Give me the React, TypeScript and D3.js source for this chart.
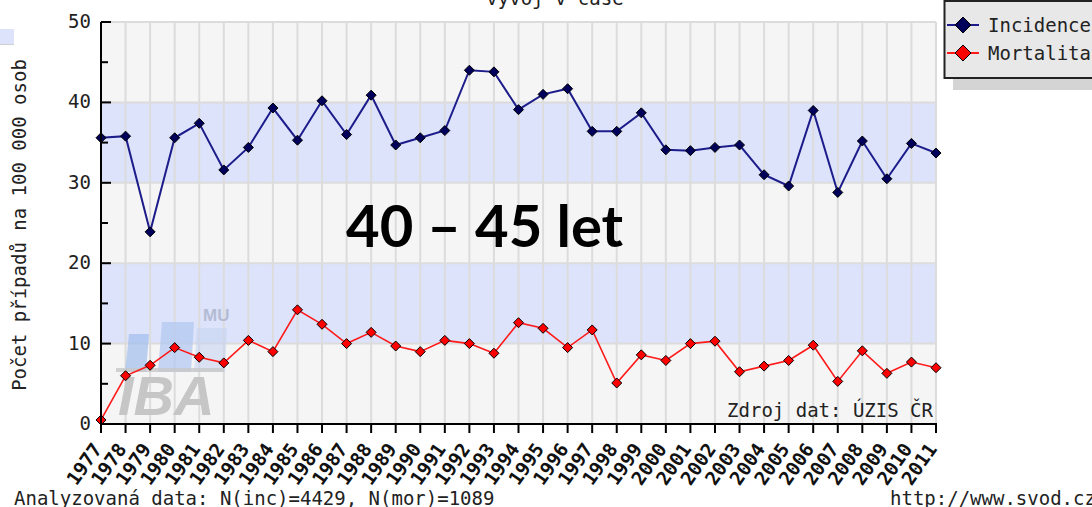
import React from "react";
import * as d3 from "d3";

const years: string[] = [
  "1977","1978","1979","1980","1981","1982","1983","1984","1985","1986",
  "1987","1988","1989","1990","1991","1992","1993","1994","1995","1996",
  "1997","1998","1999","2000","2001","2002","2003","2004","2005","2006",
  "2007","2008","2009","2010","2011",
];
const incidence: number[] = [
  35.6, 35.8, 23.9, 35.6, 37.4, 31.6, 34.4, 39.3, 35.3, 40.2,
  36.0, 40.9, 34.7, 35.6, 36.5, 44.0, 43.8, 39.1, 41.0, 41.7,
  36.4, 36.4, 38.7, 34.1, 34.0, 34.4, 34.7, 31.0, 29.6, 39.0,
  28.8, 35.2, 30.5, 34.9, 33.7,
];
const mortalita: number[] = [
  0.5, 6.0, 7.3, 9.5, 8.3, 7.6, 10.4, 9.0, 14.2, 12.4,
  10.0, 11.4, 9.7, 9.0, 10.4, 10.0, 8.8, 12.6, 11.9, 9.5,
  11.7, 5.1, 8.6, 7.9, 10.0, 10.3, 6.5, 7.2, 7.9, 9.8,
  5.3, 9.1, 6.3, 7.7, 7.0,
];
const yMajorTicks: number[] = [0, 10, 20, 30, 40, 50];
const yMinorTicks: number[] = [5, 15, 25, 35, 45];
const bands: [number, number][] = [[10, 20], [30, 40]];
const seriesNames: string[] = ["Incidence", "Mortalita"];

const W = 1092;
const H = 507;
const X0 = 101, X1 = 936, Y0 = 424, Y1 = 22;
const MONO = "'DejaVu Sans Mono', monospace";

function diamond(cx: number, cy: number, r: number) {
  return `M${cx},${cy - r}L${cx + r},${cy}L${cx},${cy + r}L${cx - r},${cy}Z`;
}

export default function App() {
  const x = d3.scalePoint<string>().domain(years).range([X0, X1]);
  const y = d3.scaleLinear().domain([0, 50]).range([Y0, Y1]);
  const line = d3
    .line<number>()
    .x((_, i) => x(years[i]) as number)
    .y((d) => y(d));

  const series = [
    { name: seriesNames[0], data: incidence, color: "#1c1c8a", fill: "#00005a", width: 2 },
    { name: seriesNames[1], data: mortalita, color: "#ff1a1a", fill: "#ff0000", width: 1.6 },
  ];

  return (
    <svg
      width={W}
      height={H}
      style={{ position: "absolute", left: 0, top: 0, background: "#fff" }}
      fontFamily={MONO}
    >
      {/* left edge remnants */}
      <rect x={0} y={29} width={14} height={15} fill="#dce3fb" />
      <line x1={0} x2={14} y1={44.5} y2={44.5} stroke="#cfcfcf" strokeWidth={1} />

      {/* title (cut at top) */}
      <text x={555} y={5} textAnchor="middle" fontSize={19} fill="#222">vývoj v čase</text>

      {/* plot background */}
      <rect x={X0} y={Y1} width={X1 - X0} height={Y0 - Y1} fill="#f5f5f5" />
      {bands.map(([a, b], i) => (
        <rect key={i} x={X0} y={y(b)} width={X1 - X0} height={y(a) - y(b)} fill="#dce3fb" />
      ))}
      {/* grid */}
      {years.map((yr) => (
        <line key={yr} x1={x(yr)} x2={x(yr)} y1={Y1} y2={Y0} stroke="#dcdcdc" strokeWidth={2} />
      ))}
      {yMajorTicks.filter((t) => t > 0).map((t) => (
        <line key={t} x1={X0} x2={X1} y1={y(t)} y2={y(t)} stroke="#dcdcdc" strokeWidth={2} />
      ))}

      {/* watermark */}
      <g>
        <text x={203} y={321} fontFamily="'Liberation Sans', Arial, sans-serif" fontWeight="bold" fontSize={17} fill="#b4bcd4">MU</text>
        <polygon points="125,372 129,334 149,334 146,372" fill="#a6c0ee" opacity={0.75} />
        <polygon points="158,372 162,322 194,322 191,372" fill="#b3c8f0" opacity={0.75} />
        <polygon points="194,372 197,328 227,328 225,372" fill="#c6d4f0" opacity={0.6} />
        <rect x={116} y={368} width={108} height={4} fill="#c8c8c8" opacity={0.8} />
        <text x={118} y={415} fontFamily="'Liberation Sans', Arial, sans-serif" fontWeight="bold" fontStyle="italic" fontSize={56} fill="#c6c6c6">IBA</text>
      </g>

      {/* series */}
      {series.map((s) => (
        <g key={s.name}>
          <path d={line(s.data) as string} fill="none" stroke={s.color} strokeWidth={s.width} />
          {s.data.map((v, i) => (
            <path key={i} d={diamond(x(years[i]) as number, y(v), 5)} fill={s.fill} stroke="#000" strokeWidth={1} />
          ))}
        </g>
      ))}

      {/* axes */}
      <line x1={X0} x2={X0} y1={Y1} y2={Y0 + 1} stroke="#000" strokeWidth={2} />
      <line x1={X0 - 1} x2={X1 + 1} y1={Y0} y2={Y0} stroke="#000" strokeWidth={2} />
      {yMajorTicks.map((t) => (
        <g key={t}>
          <line x1={X0} x2={X0 + 10} y1={y(t)} y2={y(t)} stroke="#000" strokeWidth={2} />
          <text x={91} y={y(t) + 6} textAnchor="end" fontSize={19} fill="#222">{t}</text>
        </g>
      ))}
      {yMinorTicks.map((t) => (
        <line key={t} x1={X0} x2={X0 + 7} y1={y(t)} y2={y(t)} stroke="#000" strokeWidth={2} />
      ))}
      {years.map((yr) => (
        <g key={yr}>
          <line x1={x(yr)} x2={x(yr)} y1={Y0} y2={Y0 + 9} stroke="#000" strokeWidth={2} />
          <text
            transform={`translate(${(x(yr) as number) - 4},${Y0 + 21}) rotate(-55)`}
            textAnchor="end"
            fontSize={19}
            fontWeight="bold"
            fill="#111"
            dominantBaseline="central"
          >
            {yr}
          </text>
        </g>
      ))}

      {/* y title */}
      <text transform="translate(26,225) rotate(-90)" textAnchor="middle" fontSize={19} fill="#222">
        Počet případů na 100 000 osob
      </text>

      {/* source */}
      <text x={933} y={417} textAnchor="end" fontSize={19} fill="#222">Zdroj dat: ÚZIS ČR</text>

      {/* footer */}
      <text x={14} y={505} fontSize={19} fill="#222">Analyzovaná data: N(inc)=4429, N(mor)=1089</text>
      <text x={890} y={505} fontSize={19} fill="#222">http://www.svod.cz</text>

      {/* legend */}
      <rect x={953} y={78} width={W - 953} height={12} fill="#d4d4d4" />
      <rect x={944.5} y={1} width={W} height={77} fill="#e8e8e8" stroke="#222" strokeWidth={2} />
      {series.map((s, i) => {
        const ly = 25 + i * 28;
        return (
          <g key={s.name}>
            <line x1={947} x2={979} y1={ly} y2={ly} stroke={s.color} strokeWidth={2} />
            <path d={diamond(963, ly, 8)} fill={s.fill} stroke="#000" strokeWidth={1} />
            <text x={988} y={ly + 7} fontSize={19} fill="#222">{s.name}</text>
          </g>
        );
      })}

      {/* overlay label */}
      <text x={346} y={247} fontFamily="Lato, 'Open Sans', sans-serif" fontWeight="bold" fontSize={58} fill="#000">
        40 – 45 let
      </text>
    </svg>
  );
}
